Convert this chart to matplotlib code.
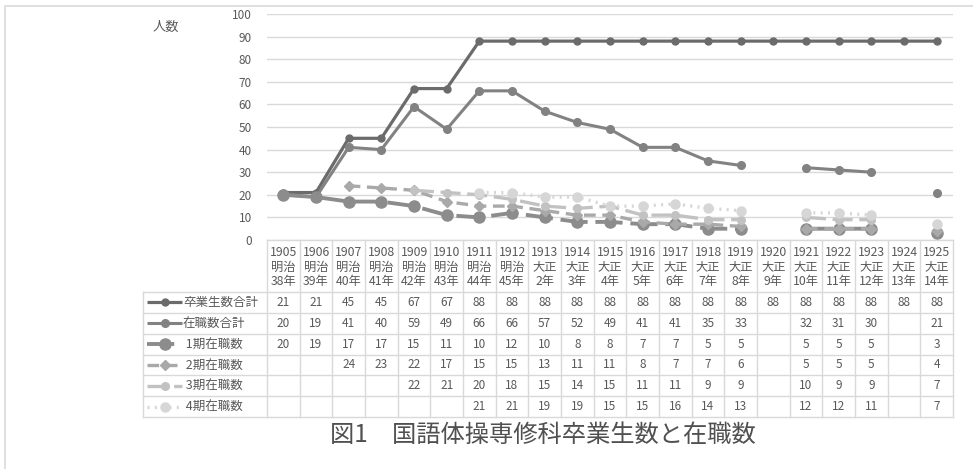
import numpy as np
import matplotlib
matplotlib.use("Agg")
from matplotlib import pyplot as plt
from matplotlib.lines import Line2D

plt.rcParams['font.family'] = ['Noto Sans CJK JP', 'DejaVu Sans']

nan = np.nan

# categories (header of the data table)
years = [str(y) for y in range(1905, 1926)]
eras = ['明治'] * 8 + ['大正'] * 13
era_years = ['38年', '39年', '40年', '41年', '42年', '43年', '44年', '45年',
             '2年', '3年', '4年', '5年', '6年', '7年', '8年', '9年',
             '10年', '11年', '12年', '13年', '14年']

series_names = ['卒業生数合計', '在職数合計', '1期在職数', '2期在職数', '3期在職数', '4期在職数']
graduates = [21, 21, 45, 45, 67, 67, 88, 88, 88, 88, 88, 88, 88, 88, 88, 88, 88, 88, 88, 88, 88]
employed = [20, 19, 41, 40, 59, 49, 66, 66, 57, 52, 49, 41, 41, 35, 33, nan, 32, 31, 30, nan, 21]
term1 = [20, 19, 17, 17, 15, 11, 10, 12, 10, 8, 8, 7, 7, 5, 5, nan, 5, 5, 5, nan, 3]
term2 = [nan, nan, 24, 23, 22, 17, 15, 15, 13, 11, 11, 8, 7, 7, 6, nan, 5, 5, 5, nan, 4]
term3 = [nan, nan, nan, nan, 22, 21, 20, 18, 15, 14, 15, 11, 11, 9, 9, nan, 10, 9, 9, nan, 7]
term4 = [nan, nan, nan, nan, nan, nan, 21, 21, 19, 19, 15, 15, 16, 14, 13, nan, 12, 12, 11, nan, 7]
all_series = [graduates, employed, term1, term2, term3, term4]

styles = [
    dict(color='#6b6b6b', lw=2.3, marker='o', ms=5, ls='-'),
    dict(color='#828282', lw=2.2, marker='o', ms=5.5, ls='-'),
    dict(color='#8c8c8c', lw=2.8, marker='o', ms=8, ls=(0, (7, 2))),
    dict(color='#a9a9a9', lw=2.4, marker='D', ms=5, ls=(0, (3.5, 2))),
    dict(color='#c2c2c2', lw=2.4, marker='o', ms=5.5, ls=(0, (6, 2))),
    dict(color='#d6d6d6', lw=2.4, marker='o', ms=6.5, ls=(0, (0.6, 1.6))),
]

W, H = 973, 469
fig = plt.figure(figsize=(W / 100, H / 100), dpi=100)

txt_col = '#595959'
grid_col = '#d9d9d9'

# outer chart border (left and top only visible)
fig.add_artist(Line2D([5 / W, 5 / W, 1.01], [-0.01, 1 - 6 / H, 1 - 6 / H],
                      transform=fig.transFigure, color=grid_col, lw=1.2))

# plot area
px_l, px_r, px_t, px_b = 267, 953, 14, 240
ax = fig.add_axes([px_l / W, 1 - px_b / H, (px_r - px_l) / W, (px_b - px_t) / H])
n = len(years)
x = np.arange(n)
ax.set_xlim(-0.5, n - 0.5)
ax.set_ylim(0, 100)
ax.set_yticks(range(0, 101, 10))
ax.yaxis.grid(True, color=grid_col, lw=1)
ax.set_axisbelow(True)
ax.set_xticks([])
ax.tick_params(axis='y', length=0, pad=11, labelsize=8.5, labelcolor=txt_col)
for s in ax.spines.values():
    s.set_visible(False)
for vals, st in zip(all_series, styles):
    ax.plot(x, vals, color=st['color'], lw=st['lw'], ls=st['ls'], marker=st['marker'],
            ms=st['ms'], mec=st['color'], mfc=st['color'], solid_capstyle='butt',
            dash_capstyle='butt', clip_on=False)
fig.text(153 / W, 1 - 27 / H, '人数', fontsize=9.5, color=txt_col, va='center', ha='left')

# data table below
tb_l, tb_r, tb_t, tb_b = 143, 953, 240, 417
colw = (px_r - px_l) / n
legw = (px_l - tb_l) / colw
tab = fig.add_axes([tb_l / W, 1 - tb_b / H, (tb_r - tb_l) / W, (tb_b - tb_t) / H])
tab.set_xlim(-0.5 - legw, n - 0.5)
tab.set_ylim(tb_b - tb_t, 0)
tab.axis('off')
head_h = 52
row_h = (tb_b - tb_t - head_h) / len(series_names)
bottom = tb_b - tb_t
lk = dict(color=grid_col, lw=1, clip_on=False)
# horizontal lines
tab.plot([-0.5, n - 0.5], [0, 0], **lk)
for i in range(len(series_names) + 1):
    yy = head_h + i * row_h
    tab.plot([-0.5 - legw, n - 0.5], [yy, yy], **lk)
# vertical lines
tab.plot([-0.5 - legw, -0.5 - legw], [head_h, bottom], **lk)
for j in range(n + 1):
    tab.plot([j - 0.5, j - 0.5], [0, bottom], **lk)

for j in range(n):
    tab.text(j, head_h / 2 + 1, f'{years[j]}\n{eras[j]}\n{era_years[j]}', ha='center',
             va='center', fontsize=8.8, color=txt_col, linespacing=1.2)

x0 = -0.5 - legw
for i, (name, vals, st) in enumerate(zip(series_names, all_series, styles)):
    yc = head_h + (i + 0.5) * row_h
    tab.plot([x0 + 0.12, x0 + 1.2], [yc, yc], color=st['color'], lw=st['lw'], ls=st['ls'],
             solid_capstyle='butt', dash_capstyle='butt', clip_on=False)
    tab.plot([x0 + 0.66], [yc], marker=st['marker'], ms=st['ms'], color=st['color'],
             clip_on=False)
    label = name if i < 2 else ' ' + name
    tab.text(x0 + 1.22, yc, label, ha='left', va='center', fontsize=9, color=txt_col)
    for j, v in enumerate(vals):
        if not np.isnan(v):
            tab.text(j, yc, f'{int(v)}', ha='center', va='center', fontsize=8.5, color=txt_col)

fig.text(543 / W, 1 - 435 / H, '図1\u3000国語体操専修科卒業生数と在職数', ha='center',
         va='center', fontsize=17.5, color='#505050')

fig.savefig('out.png', dpi=100)
